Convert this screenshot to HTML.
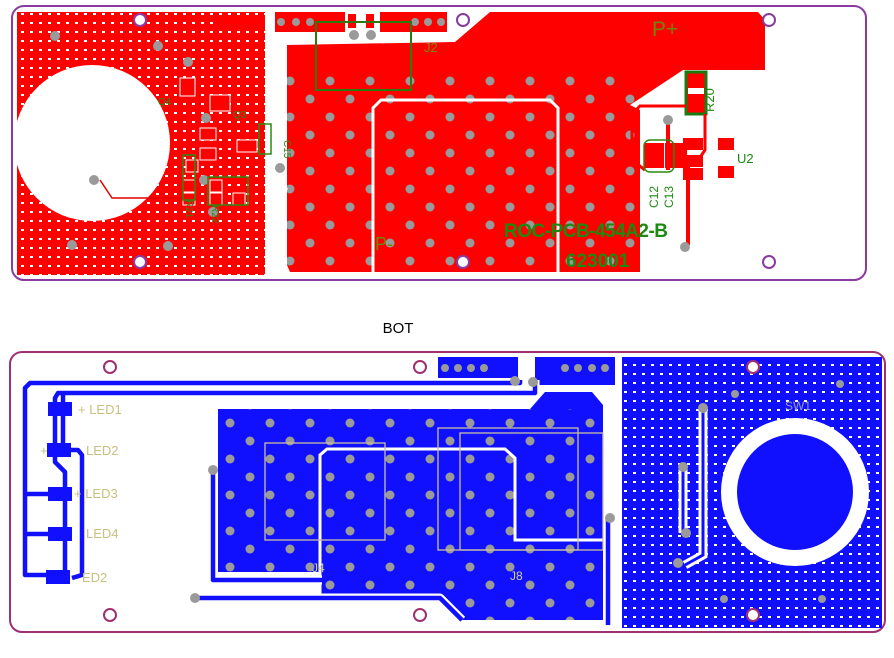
<!DOCTYPE html>
<html><head><meta charset="utf-8"><style>
html,body{margin:0;padding:0;background:#fff;width:894px;height:658px;overflow:hidden}
svg{display:block}
text{font-family:"Liberation Sans",sans-serif}
</style></head><body>
<svg width="894" height="658" viewBox="0 0 894 658" xmlns="http://www.w3.org/2000/svg">
<defs>
<pattern id="grid" width="9" height="9" patternUnits="userSpaceOnUse">
<rect x="3" y="4" width="3" height="2" fill="#fff"/>
</pattern>
<pattern id="vias" width="40" height="36" patternUnits="userSpaceOnUse">
<circle cx="10" cy="9" r="4.5" fill="#9a9a9a"/>
<circle cx="30" cy="27" r="4.5" fill="#9a9a9a"/>
</pattern>
<clipPath id="topMain"><polygon points="287,45 455,42 490,12 758,12 765,20 765,70 683,70 630,105 640,110 640,272 290,272 287,265"/></clipPath>
<clipPath id="botJ"><polygon points="218,409 530,409 545,392 592,392 603,405 603,620 460,620 438,598 320,598 320,572 218,572"/></clipPath>
</defs>

<!-- TOP BOARD -->
<rect x="12" y="6" width="854" height="274" rx="12" fill="#fff" stroke="#8a3aa0" stroke-width="2"/>
<rect x="17" y="12" width="248" height="263" fill="#ff0000"/>
<rect x="17" y="12" width="248" height="263" fill="url(#grid)"/>
<circle cx="92" cy="143" r="78" fill="#fff"/>
<polygon points="287,45 455,42 490,12 758,12 765,20 765,70 683,70 630,105 640,110 640,272 290,272 287,265" fill="#ff0000"/>
<rect x="287" y="70" width="353" height="202" fill="url(#vias)" clip-path="url(#topMain)"/>
<polyline points="373,272 373,108 381,100 550,100 558,108 558,272" fill="none" stroke="#fff" stroke-width="3"/>
<polyline points="265,185 282,185 287,190" fill="none" stroke="#fff" stroke-width="3"/>
<rect x="275" y="12" width="70" height="20" fill="#ff0000"/>
<rect x="380" y="12" width="67" height="20" fill="#ff0000"/>
<rect x="348" y="14" width="8" height="14" fill="#ff0000"/><rect x="366" y="14" width="8" height="14" fill="#ff0000"/>
<circle cx="354" cy="35" r="5" fill="#9a9a9a"/><circle cx="371" cy="35" r="5" fill="#9a9a9a"/>
<g fill="#9a9a9a"><circle cx="281" cy="22" r="4"/><circle cx="296" cy="22" r="4"/><circle cx="310" cy="22" r="4"/><circle cx="415" cy="22" r="4"/><circle cx="428" cy="22" r="4"/><circle cx="441" cy="22" r="4"/></g>
<rect x="316" y="22" width="95" height="68" fill="none" stroke="#2a7a10" stroke-width="2"/>
<text x="424" y="52" font-size="13" fill="#7a8a00">J2</text>
<polyline points="217,90 217,22 265,22" fill="none" stroke="#ff0000" stroke-width="4"/>
<polyline points="100,180 112,198 190,198" fill="none" stroke="#e00000" stroke-width="1.5"/>
<circle cx="94" cy="180" r="5" fill="#9a9a9a"/>
<g fill="#9a9a9a"><circle cx="55" cy="36" r="5"/><circle cx="158" cy="46" r="5"/><circle cx="72" cy="245" r="5"/><circle cx="168" cy="246" r="5"/><circle cx="188" cy="62" r="5"/><circle cx="206" cy="118" r="5"/><circle cx="204" cy="180" r="5"/><circle cx="213" cy="212" r="5"/><circle cx="280" cy="168" r="5"/></g>
<g fill="#ff0000" stroke="#fff" stroke-width="1"><rect x="180" y="78" width="15" height="18"/><rect x="210" y="95" width="20" height="16"/><rect x="200" y="128" width="16" height="12"/><rect x="237" y="140" width="20" height="12"/><rect x="186" y="160" width="12" height="12"/><rect x="200" y="148" width="16" height="12"/><rect x="183" y="180" width="12" height="12"/><rect x="183" y="193" width="12" height="12"/><rect x="210" y="180" width="12" height="12"/><rect x="210" y="193" width="12" height="12"/><rect x="233" y="193" width="12" height="12"/></g>
<g fill="none" stroke="#2a8a10" stroke-width="1.5">
<rect x="183" y="155" width="12" height="45"/><rect x="208" y="177" width="40" height="28"/><rect x="259" y="124" width="12" height="30"/>
</g>
<g fill="#2a8a10" font-size="10"><text x="158" y="105">Q4</text><text x="233" y="118">Q3</text><text x="284" y="140" transform="rotate(90 284 140)">C15</text><text x="186" y="200" transform="rotate(90 186 200)">R21</text><text x="212" y="205" transform="rotate(90 212 205)">R22</text></g>
<rect x="686" y="72" width="20" height="42" fill="#ff0000" stroke="#1a7a10" stroke-width="3"/>
<rect x="688" y="88" width="16" height="6" fill="#fff"/>
<polyline points="705,114 705,150 695,165" fill="none" stroke="#ff0000" stroke-width="3"/>
<polyline points="686,106 640,106 632,114 632,160 645,170" fill="none" stroke="#ff0000" stroke-width="3"/>
<line x1="668" y1="120" x2="668" y2="170" stroke="#ff0000" stroke-width="4"/>
<line x1="688" y1="165" x2="688" y2="245" stroke="#ff0000" stroke-width="4"/>
<circle cx="668" cy="120" r="5" fill="#9a9a9a"/><circle cx="685" cy="247" r="5" fill="#9a9a9a"/>
<g fill="#ff0000"><rect x="644" y="143" width="20" height="25"/><rect x="665" y="143" width="22" height="25"/><rect x="683" y="138" width="20" height="12"/><rect x="683" y="155" width="20" height="12"/><rect x="683" y="168" width="20" height="12"/><rect x="718" y="138" width="16" height="12"/><rect x="718" y="166" width="16" height="12"/></g>
<rect x="644" y="140" width="30" height="32" rx="6" fill="none" stroke="#2a8a10" stroke-width="1.5"/>
<text x="737" y="163" font-size="13" fill="#1a8a10">U2</text>
<text x="714" y="112" font-size="13" fill="#1a8a10" transform="rotate(-90 714 112)">R20</text>
<text x="658" y="208" font-size="12" fill="#1a8a10" transform="rotate(-90 658 208)">C12</text>
<text x="673" y="208" font-size="12" fill="#1a8a10" transform="rotate(-90 673 208)">C13</text>
<text x="652" y="36" font-size="21" fill="#6a8a00">P+</text>
<text x="375" y="250" font-size="18" fill="#6a8a00">P-</text>
<text x="504" y="237" font-size="19" font-weight="bold" fill="#1a8a10" letter-spacing="-0.5">ROC-PCB-454A2-B</text>
<text x="566" y="267" font-size="19" font-weight="bold" fill="#1a8a10">623001</text>
<g fill="#fff" stroke="#8a3aa0" stroke-width="2"><circle cx="140" cy="20" r="6"/><circle cx="140" cy="262" r="6"/><circle cx="463" cy="20" r="6"/><circle cx="463" cy="262" r="6"/><circle cx="769" cy="20" r="6"/><circle cx="769" cy="262" r="6"/></g>

<text x="398" y="333" font-size="15" text-anchor="middle" fill="#000">BOT</text>

<!-- BOTTOM BOARD -->
<rect x="10" y="352" width="875" height="280" rx="12" fill="#fff" stroke="#a03070" stroke-width="2"/>
<rect x="622" y="357" width="260" height="271" fill="#1010ff"/>
<rect x="622" y="357" width="260" height="271" fill="url(#grid)"/>
<circle cx="795" cy="492" r="74" fill="#fff"/>
<circle cx="795" cy="492" r="58" fill="#1010ff"/>
<text x="785" y="410" font-size="12" fill="#9a9acc">SW1</text>
<g fill="none" stroke="#fff" stroke-width="9"><polyline points="703,408 703,555 685,565"/><polyline points="683,465 683,533"/></g>
<g fill="none" stroke="#1010ff" stroke-width="3"><polyline points="703,408 703,555 685,565"/><polyline points="683,465 683,533"/></g>
<g fill="#9a9a9a"><circle cx="703" cy="408" r="5"/><circle cx="683" cy="467" r="5"/><circle cx="686" cy="533" r="5"/><circle cx="678" cy="563" r="5"/><circle cx="735" cy="394" r="4"/><circle cx="840" cy="384" r="4"/><circle cx="724" cy="599" r="4"/><circle cx="822" cy="599" r="4"/></g>
<polygon points="218,409 530,409 545,392 592,392 603,405 603,620 460,620 438,598 320,598 320,572 218,572" fill="#1010ff"/>
<rect x="218" y="409" width="385" height="211" fill="url(#vias)" clip-path="url(#botJ)"/>
<rect x="438" y="357" width="80" height="21" fill="#1010ff"/>
<rect x="535" y="357" width="80" height="28" fill="#1010ff"/>
<g fill="#9a9a9a"><circle cx="445" cy="368" r="4"/><circle cx="458" cy="368" r="4"/><circle cx="471" cy="368" r="4"/><circle cx="484" cy="368" r="4"/><circle cx="565" cy="368" r="4"/><circle cx="578" cy="368" r="4"/><circle cx="592" cy="368" r="4"/><circle cx="605" cy="368" r="4"/></g>
<polyline points="320,598 320,455 327,449 505,449 515,458 515,540 603,540" fill="none" stroke="#fff" stroke-width="3"/>
<g fill="none" stroke="#c8c0a0" stroke-width="1.3">
<rect x="265" y="443" width="120" height="97"/><rect x="438" y="428" width="140" height="122"/><rect x="460" y="433" width="143" height="117"/>
</g>
<text x="312" y="572" font-size="12" fill="#d0d0a0">J4</text>
<text x="510" y="580" font-size="12" fill="#d0d0a0">J8</text>
<g fill="none" stroke="#fff" stroke-width="9" stroke-linejoin="round">
<polyline points="520,380 520,383 30,383 25,388 25,575 60,575"/>
<polyline points="535,380 535,393 58,393 55,398 55,450"/>
<polyline points="213,470 213,580 322,580"/>
<polyline points="195,598 440,598 462,620"/>
<polyline points="608,518 608,625"/>
</g>
<g fill="none" stroke="#1010ff" stroke-width="4.5" stroke-linejoin="round">
<polyline points="520,380 520,383 30,383 25,388 25,575 60,575"/>
<polyline points="535,380 535,393 58,393 55,398 55,450"/>
<polyline points="63,393 63,450"/>
<polyline points="55,450 55,462 65,472 65,575"/>
<polyline points="63,450 78,450 82,455 82,575 72,578"/>
<polyline points="25,494 55,494"/><polyline points="25,534 55,534"/>
<polyline points="213,470 213,580 322,580"/>
<polyline points="195,598 440,598 462,620"/>
<polyline points="608,518 608,625"/>
</g>
<g fill="#1010ff"><rect x="48" y="402" width="24" height="14"/><rect x="47" y="443" width="24" height="14"/><rect x="48" y="487" width="24" height="14"/><rect x="48" y="527" width="24" height="14"/><rect x="46" y="570" width="24" height="14"/></g>
<g fill="#9a9a9a"><circle cx="515" cy="381" r="5"/><circle cx="533" cy="382" r="5"/><circle cx="213" cy="470" r="5"/><circle cx="195" cy="598" r="5"/><circle cx="610" cy="518" r="5"/></g>
<g font-size="13" fill="#c8c080"><text x="78" y="414">+ LED1</text><text x="40" y="455">+</text><text x="86" y="455">LED2</text><text x="74" y="498">+ LED3</text><text x="86" y="538">LED4</text><text x="82" y="582">ED2</text></g>
<g fill="#fff" stroke="#a03070" stroke-width="2"><circle cx="110" cy="367" r="6"/><circle cx="110" cy="615" r="6"/><circle cx="420" cy="367" r="6"/><circle cx="420" cy="615" r="6"/><circle cx="753" cy="367" r="6"/><circle cx="753" cy="615" r="6"/></g>
</svg>
</body></html>
